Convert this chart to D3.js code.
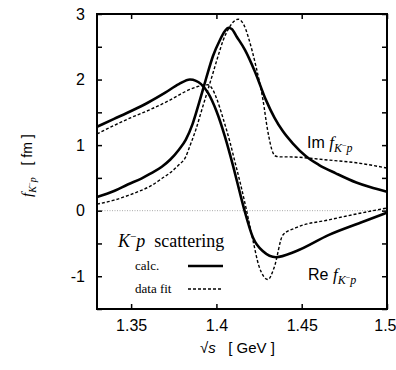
<!DOCTYPE html>
<html><head><meta charset="utf-8">
<script src="https://cdn.jsdelivr.net/npm/d3@7"></script>
<style>
body{margin:0;background:#fff;}
svg{display:block;}
text{fill:#000;white-space:pre;}
</style></head>
<body><svg id="c" width="396" height="370"></svg>
<script>
// sqrt(s) in GeV, f in fm
const imCalc = [[1.330,0.21],[1.340,0.30],[1.348,0.40],[1.356,0.49],[1.361,0.56],[1.368,0.67],[1.373,0.78],[1.378,0.93],[1.382,1.08],[1.386,1.32],[1.390,1.66],[1.394,2.02],[1.398,2.36],[1.402,2.60],[1.405,2.74],[1.407,2.79],[1.409,2.77],[1.412,2.65],[1.4168,2.45],[1.4226,2.12],[1.429,1.69],[1.434,1.42],[1.439,1.21],[1.445,1.02],[1.4525,0.83],[1.460,0.70],[1.470,0.57],[1.482,0.43],[1.490,0.36],[1.500,0.29]];
const imFit = [[1.330,0.10],[1.340,0.16],[1.348,0.23],[1.356,0.31],[1.361,0.37],[1.368,0.49],[1.373,0.58],[1.378,0.70],[1.382,0.82],[1.3845,0.99],[1.388,1.24],[1.391,1.50],[1.3945,1.80],[1.398,2.10],[1.401,2.36],[1.404,2.60],[1.407,2.77],[1.410,2.88],[1.4127,2.92],[1.415,2.88],[1.417,2.78],[1.419,2.62],[1.4232,2.20],[1.4273,1.69],[1.430,1.23],[1.4332,0.88],[1.435,0.83],[1.438,0.82],[1.443,0.82],[1.455,0.80],[1.4625,0.78],[1.482,0.73],[1.500,0.65]];
const reCalc = [[1.330,1.28],[1.340,1.40],[1.350,1.52],[1.360,1.65],[1.370,1.80],[1.378,1.93],[1.3845,2.00],[1.388,1.98],[1.391,1.93],[1.395,1.80],[1.400,1.52],[1.405,1.13],[1.410,0.66],[1.4135,0.30],[1.4165,0.00],[1.4214,-0.41],[1.4273,-0.62],[1.4349,-0.71],[1.4466,-0.62],[1.466,-0.37],[1.4859,-0.17],[1.500,-0.03]];
const reFit = [[1.330,1.17],[1.340,1.30],[1.350,1.42],[1.361,1.54],[1.373,1.69],[1.382,1.82],[1.3886,1.89],[1.395,1.92],[1.398,1.84],[1.400,1.72],[1.404,1.40],[1.408,1.04],[1.411,0.73],[1.414,0.42],[1.4177,0.00],[1.4214,-0.45],[1.425,-0.85],[1.4302,-1.05],[1.4338,-0.87],[1.439,-0.37],[1.4466,-0.26],[1.466,-0.14],[1.4859,-0.03],[1.500,0.04]];
const xTicks = [1.35,1.4,1.45,1.5];
const xTickLabels = ["1.35","1.4","1.45","1.5"];
const yTicks = [-1.5,-1,-0.5,0,0.5,1,1.5,2,2.5,3];
const yTickLabels = {"-1":"-1","0":"0","1":"1","2":"2","3":"3"};

const svg = d3.select("#c");
const L=97,R=387,T=14,B=309;
const x = d3.scaleLinear([1.33,1.5],[L,R]);
const y = d3.scaleLinear([-1.5,3],[B,T]);
const sans = "Liberation Sans, Arial, sans-serif";
const serif = "Liberation Serif, Times New Roman, serif";

// zero line
svg.append("line").attr("x1",L).attr("x2",R).attr("y1",y(0)).attr("y2",y(0))
  .attr("stroke","#aaa").attr("stroke-width",1).attr("stroke-dasharray","1,1.5");

// axes
const ax = svg.append("g");
ax.append("g").attr("transform",`translate(${L},0)`)
  .call(d3.axisLeft(y).tickValues(yTicks).tickSizeInner(-5).tickSizeOuter(0).tickPadding(12)
    .tickFormat(d=>yTickLabels[String(d)]||""));
ax.append("g").attr("transform",`translate(${R},0)`)
  .call(d3.axisRight(y).tickValues(yTicks).tickSizeInner(-5).tickSizeOuter(0).tickFormat(""));
const gb = ax.append("g").attr("transform",`translate(0,${B})`)
  .call(d3.axisBottom(x).tickValues(xTicks).tickSizeInner(-5).tickSizeOuter(0).tickPadding(11)
    .tickFormat((d,i)=>xTickLabels[i]));
ax.append("g").attr("transform",`translate(0,${T})`)
  .call(d3.axisTop(x).tickValues(xTicks).tickSizeInner(-5).tickSizeOuter(0).tickFormat(""));
ax.selectAll(".domain").remove();
ax.selectAll(".tick line").attr("stroke","#000").attr("stroke-width",1.5);
ax.selectAll("text").attr("font-family",sans).attr("font-size",16);
gb.selectAll(".tick text").filter(d=>d===1.5).attr("text-anchor","end").attr("x",9);

// frame
svg.append("rect").attr("x",L).attr("y",T).attr("width",R-L).attr("height",B-T)
  .attr("fill","none").attr("stroke","#000").attr("stroke-width",2);

// curves
const line = d3.line().x(d=>x(d[0])).y(d=>y(d[1])).curve(d3.curveMonotoneX);
const g = svg.append("g");
[[imFit,false],[reFit,false],[imCalc,true],[reCalc,true]].forEach(([data,solid])=>{
  g.append("path").attr("d",line(data)).attr("fill","none").attr("stroke","#000")
    .attr("stroke-width",solid?2.6:1.4).attr("stroke-dasharray",solid?null:"3,2")
    .attr("stroke-linejoin","round");
});

// legend
const t1 = svg.append("text").attr("x",118).attr("y",247).attr("font-size",18).attr("font-family",serif);
t1.append("tspan").attr("font-style","italic").text("K");
t1.append("tspan").attr("font-size",11).attr("dy",-7).text("−");
t1.append("tspan").attr("font-style","italic").attr("dy",7).text("p");
t1.append("tspan").text("  scattering");
svg.append("text").attr("x",135).attr("y",270).attr("font-size",13).attr("font-family",serif).text("calc.");
svg.append("text").attr("x",135).attr("y",293).attr("font-size",13).attr("font-family",serif).text("data fit");
svg.append("line").attr("x1",188).attr("x2",223).attr("y1",266).attr("y2",266)
  .attr("stroke","#000").attr("stroke-width",2.6);
svg.append("line").attr("x1",188).attr("x2",223).attr("y1",289).attr("y2",289)
  .attr("stroke","#000").attr("stroke-width",1.4).attr("stroke-dasharray","3,2");

// curve labels
function fLabel(px,py,prefix){
  const t = svg.append("text").attr("x",px).attr("y",py).attr("font-family",sans).attr("font-size",16);
  t.append("tspan").text(prefix+" ");
  t.append("tspan").attr("font-family",serif).attr("font-style","italic").attr("font-size",17).text("f");
  t.append("tspan").attr("font-family",serif).attr("font-style","italic").attr("font-size",12).attr("dy",4).text("K");
  t.append("tspan").attr("font-family",serif).attr("font-size",8).attr("dy",-4).text("−");
  t.append("tspan").attr("font-family",serif).attr("font-style","italic").attr("font-size",12).attr("dy",4).text("p");
}
fLabel(307,148,"Im");
fLabel(308,280,"Re");

// axis titles
const xt = svg.append("text").attr("x",200).attr("y",353).attr("font-family",sans).attr("font-size",15);
xt.append("tspan").text("√");
xt.append("tspan").attr("font-style","italic").text("s");
xt.append("tspan").text("   [ GeV ]");

const yt = svg.append("text").attr("transform","translate(32,197) rotate(-90)")
  .attr("font-family",serif).attr("font-size",15);
yt.append("tspan").attr("font-style","italic").text("f");
yt.append("tspan").attr("font-style","italic").attr("font-size",10).attr("dy",4).text("K");
yt.append("tspan").attr("font-size",7).attr("dy",-4).text("−");
yt.append("tspan").attr("font-style","italic").attr("font-size",10).attr("dy",4).text("p");
yt.append("tspan").attr("dy",-4).attr("font-family",sans).attr("font-size",14).text("   [ fm ]");
</script></body></html>
